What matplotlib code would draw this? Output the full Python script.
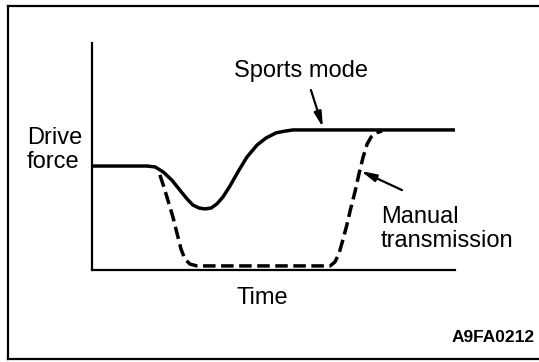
import matplotlib.pyplot as plt
from matplotlib.lines import Line2D

plt.rcParams['font.family'] = ['Liberation Sans', 'DejaVu Sans']

# Drive force vs time (arbitrary units, 0-100 on both axes)
sports_t = [0, 15.2, 17.4, 19.6, 22.0, 24.2, 26.2, 27.8, 29.5, 31.1, 32.8, 34.4,
            36.1, 38.0, 40.2, 42.7, 45.5, 47.9, 50.7, 53.2, 55.4, 100]
sports_f = [45.8, 45.8, 45.4, 43.2, 39.6, 35.2, 31.3, 28.6, 27.3, 26.9, 27.3, 29.1,
            32.2, 37.0, 43.2, 49.8, 55.1, 58.1, 60.4, 61.2, 61.7, 61.7]

manual_t = [18.7, 19.8, 20.9, 22.3, 23.4, 24.5, 25.6, 27.0, 28.9, 65.6, 66.9, 68.0,
            69.1, 70.2, 71.3, 72.5, 73.6, 74.7, 75.8, 76.9, 78.2, 79.9]
manual_f = [41.9, 36.6, 30.8, 23.3, 16.3, 9.3, 4.8, 2.6, 1.8, 1.8, 3.5, 7.0,
            13.2, 19.8, 27.3, 34.8, 42.7, 49.8, 55.5, 58.6, 60.4, 61.2]

W, H = 539, 362
fig = plt.figure(figsize=(W / 100, H / 100), dpi=100)
ax = fig.add_axes([92 / W, (H - 270) / H, 363 / W, 227 / H])
ax.set_xlim(0, 100)
ax.set_ylim(0, 100)
for s in ['top', 'right']:
    ax.spines[s].set_visible(False)
for s in ['left', 'bottom']:
    ax.spines[s].set_linewidth(1.6)
ax.set_xticks([])
ax.set_yticks([])

ax.plot(sports_t, sports_f, color='black', lw=2.5, solid_capstyle='butt',
        solid_joinstyle='round', clip_on=False)
ax.plot(manual_t, manual_f, color='black', lw=2.5, ls=(0, (3.6, 1.6)),
        dash_capstyle='butt', clip_on=False)

arrow = dict(arrowstyle='-|>,head_length=0.9,head_width=0.22', color='black',
             lw=1.6, shrinkA=0, shrinkB=0)
ax.annotate('', xy=(63.6, 62.8), xytext=(60.3, 79.3), arrowprops=arrow)
ax.annotate('', xy=(74.1, 43.6), xytext=(85.4, 35.2), arrowprops=arrow)

fs = 17
ax.text(57.6, 85, 'Sports mode', fontsize=fs, ha='center', va='baseline')
ax.text(-17.9, 55.5, 'Drive', fontsize=fs, ha='left', va='baseline', clip_on=False)
ax.text(-17.9, 44.9, 'force', fontsize=fs, ha='left', va='baseline', clip_on=False)
ax.text(79.6, 20.7, 'Manual', fontsize=fs, ha='left', va='baseline')
ax.text(79.6, 10.1, 'transmission', fontsize=fs, ha='left', va='baseline')
ax.text(46.8, -15, 'Time', fontsize=fs, ha='center', va='baseline')
ax.text(122, -31.7, 'A9FA0212', fontsize=12.5, fontweight='bold',
        ha='right', va='baseline')

# frame around the figure (left, top, bottom edges)
for xs, ys in [([8, 8], [6, 359]), ([8, W], [6, 6]), ([8, W], [359, 359])]:
    fig.add_artist(Line2D([x / W for x in xs], [1 - y / H for y in ys],
                          color='black', lw=1.6))

fig.savefig('out.png', dpi=100)
